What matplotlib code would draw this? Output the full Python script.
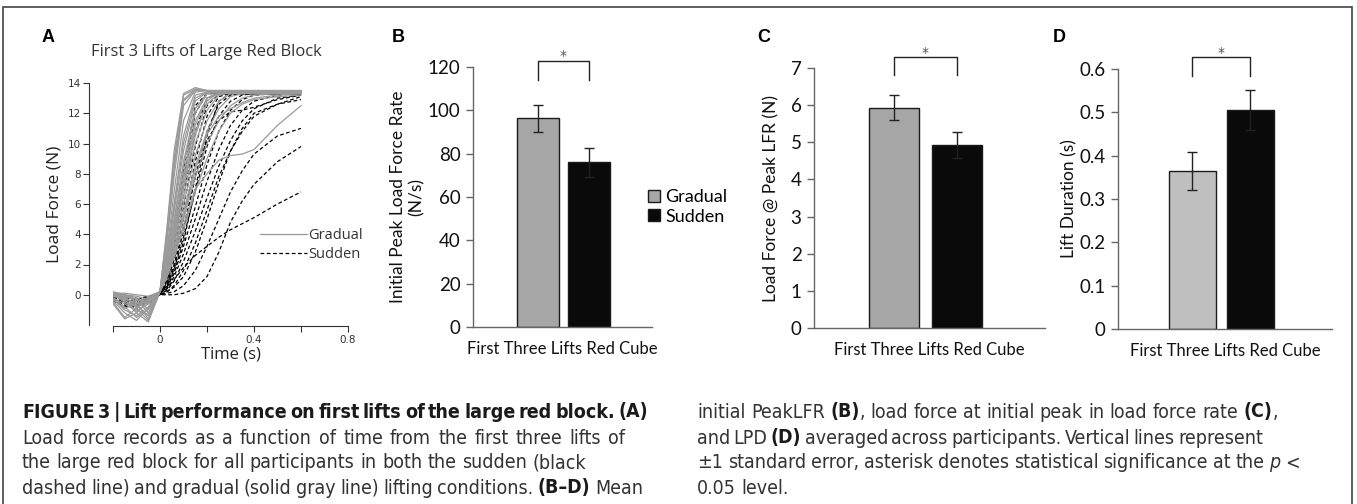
import matplotlib
matplotlib.use('Agg')
import matplotlib.pyplot as plt
from matplotlib import font_manager as fm
from matplotlib.lines import Line2D
from matplotlib.patches import Patch, Rectangle

W, H = 1357, 504

# ---- panel A: load force traces
time_s = [-0.2, -0.15, -0.1, -0.05, 0, 0.03, 0.06, 0.1, 0.15, 0.2, 0.25, 0.3, 0.35, 0.4, 0.5, 0.6]

gradual_traces = [
    [0.1, 0.1, 0.0, -0.1, 0.2, 4.5, 9.5, 13.3, 13.7, 13.5, 13.5, 13.5, 13.5, 13.5, 13.5, 13.5],
    [0.0, -0.2, -0.6, -0.4, 0.2, 4.0, 8.6, 12.9, 13.6, 13.5, 13.5, 13.5, 13.4, 13.4, 13.4, 13.4],
    [-0.3, -1.0, -1.4, -0.8, 0.2, 3.5, 7.8, 12.5, 13.5, 13.5, 13.4, 13.4, 13.4, 13.4, 13.4, 13.4],
    [0.2, 0.0, -0.5, -1.6, 0.2, 3.0, 6.8, 11.5, 13.4, 13.5, 13.4, 13.4, 13.4, 13.4, 13.4, 13.4],
    [-0.5, -1.5, -0.9, -0.3, 0.2, 2.8, 6.0, 10.5, 13.2, 13.4, 13.4, 13.4, 13.4, 13.4, 13.4, 13.4],
    [0.0, -0.3, -1.2, -1.8, 0.2, 2.5, 5.5, 9.5, 12.8, 13.4, 13.4, 13.4, 13.4, 13.4, 13.4, 13.4],
    [0.1, 0.0, -0.2, -0.5, 0.2, 2.2, 5.0, 8.8, 12.3, 13.3, 13.4, 13.4, 13.4, 13.4, 13.4, 13.4],
    [-0.2, -0.6, -1.1, -0.6, 0.2, 2.0, 4.5, 8.0, 11.5, 13.0, 13.4, 13.4, 13.4, 13.4, 13.4, 13.4],
    [0.0, 0.0, -0.3, -1.2, 0.2, 1.8, 4.0, 7.2, 10.8, 12.6, 13.3, 13.4, 13.4, 13.4, 13.4, 13.4],
    [-0.4, -1.2, -1.7, -0.9, 0.2, 1.6, 3.6, 6.5, 10.0, 12.2, 13.2, 13.4, 13.4, 13.4, 13.4, 13.4],
    [0.1, -0.1, -0.4, -0.2, 0.2, 1.5, 3.3, 6.0, 9.2, 11.5, 12.8, 13.3, 13.4, 13.4, 13.4, 13.4],
    [0.0, -0.5, -1.0, -1.3, 0.2, 1.4, 3.0, 5.5, 8.5, 10.8, 12.3, 13.1, 13.3, 13.4, 13.4, 13.4],
    [-0.1, -0.2, -0.8, -0.5, 0.2, 1.3, 2.8, 5.0, 7.8, 10.0, 11.5, 12.5, 13.0, 13.2, 13.3, 13.3],
    [0.0, -0.1, -0.3, -0.6, 0.2, 1.2, 2.6, 4.6, 7.0, 8.0, 8.9, 9.2, 9.3, 9.6, 11.2, 12.5],
    [-0.6, -1.6, -1.2, -0.4, 0.2, 1.2, 2.5, 4.3, 6.8, 9.0, 10.8, 12.0, 12.6, 12.9, 13.1, 13.2],
    [0.1, 0.0, -0.1, -0.3, 0.2, 4.3, 9.0, 13.2, 13.6, 13.5, 13.5, 13.5, 13.5, 13.5, 13.5, 13.5],
    [-0.2, -0.8, -1.5, -1.0, 0.2, 3.8, 8.3, 12.8, 13.5, 13.5, 13.5, 13.5, 13.5, 13.5, 13.5, 13.5],
    [0.0, -0.2, -0.7, -1.4, 0.2, 2.6, 5.8, 10.0, 13.0, 13.4, 13.4, 13.4, 13.4, 13.4, 13.4, 13.4],
    [-0.3, -0.9, -0.6, -0.2, 0.2, 2.0, 4.8, 8.5, 12.0, 13.3, 13.4, 13.4, 13.4, 13.4, 13.4, 13.4],
    [0.1, -0.1, -0.9, -1.7, 0.2, 1.7, 3.8, 7.0, 10.5, 12.8, 13.4, 13.4, 13.4, 13.4, 13.4, 13.4],
    [0.0, -0.4, -0.8, -0.3, 0.2, 1.9, 4.2, 7.6, 11.2, 13.0, 13.3, 13.3, 13.3, 13.3, 13.3, 13.3],
    [-0.1, -0.3, -0.5, -0.9, 0.2, 1.3, 2.9, 5.2, 8.2, 10.6, 11.8, 12.3, 12.7, 13.0, 13.2, 13.3],
]

sudden_traces = [
    [-0.2, -0.4, -0.5, -0.3, 0.2, 1.2, 3.5, 7.5, 12.0, 13.3, 13.3, 13.3, 13.3, 13.3, 13.3, 13.3],
    [-0.1, -0.3, -0.7, -0.5, 0.2, 1.0, 3.0, 6.5, 10.8, 13.0, 13.3, 13.3, 13.3, 13.3, 13.3, 13.3],
    [-0.3, -0.6, -0.8, -0.4, 0.1, 0.9, 2.6, 5.8, 9.8, 12.5, 13.3, 13.3, 13.3, 13.3, 13.3, 13.3],
    [-0.2, -0.5, -0.4, -0.2, 0.1, 0.8, 2.3, 5.0, 8.8, 11.8, 13.1, 13.3, 13.3, 13.3, 13.3, 13.3],
    [-0.4, -0.8, -0.6, -0.3, 0.1, 0.7, 2.0, 4.4, 7.8, 10.8, 12.6, 13.2, 13.3, 13.3, 13.3, 13.3],
    [-0.1, -0.2, -0.5, -0.6, 0.1, 0.6, 1.7, 3.8, 6.8, 9.8, 11.8, 12.8, 13.2, 13.3, 13.3, 13.3],
    [-0.3, -0.7, -0.9, -0.5, 0.1, 0.5, 1.4, 3.2, 5.8, 8.6, 10.8, 12.2, 12.9, 13.2, 13.3, 13.3],
    [-0.2, -0.3, -0.6, -0.4, 0.1, 0.4, 1.2, 2.7, 5.0, 7.5, 9.6, 11.2, 12.2, 12.8, 13.2, 13.3],
    [-0.1, -0.4, -0.7, -0.5, 0.0, 0.3, 0.9, 2.2, 4.2, 6.4, 8.5, 10.2, 11.5, 12.3, 13.0, 13.2],
    [-0.2, -0.5, -0.3, -0.1, 0.0, 0.2, 0.6, 1.6, 3.4, 5.6, 7.8, 9.5, 10.8, 11.8, 12.6, 13.1],
    [-0.1, -0.2, -0.4, -0.2, 0.0, 0.1, 0.2, 0.6, 1.6, 3.2, 5.0, 6.8, 8.2, 9.3, 10.5, 11.0],
    [-0.2, -0.4, -0.3, -0.1, 0.0, 0.0, 0.0, 0.1, 0.4, 1.2, 2.8, 4.8, 6.2, 7.3, 8.8, 9.8],
    [-0.1, -0.3, -0.5, -0.3, 0.1, 0.4, 1.0, 1.8, 2.6, 3.2, 3.8, 4.3, 4.7, 5.1, 6.0, 6.8],
    [-0.3, -0.5, -0.6, -0.2, 0.0, 0.2, 0.5, 1.2, 2.8, 5.0, 7.4, 9.5, 11.0, 12.0, 12.6, 12.9],
    [-0.2, -0.6, -0.8, -0.4, 0.2, 1.5, 4.0, 8.2, 12.5, 13.3, 13.3, 13.3, 13.3, 13.3, 13.3, 13.3],
    [-0.1, -0.2, -0.3, -0.2, 0.1, 0.5, 1.5, 3.5, 7.0, 10.5, 12.8, 13.3, 13.3, 13.3, 13.3, 13.3],
    [-0.2, -0.4, -0.6, -0.3, 0.1, 0.6, 1.8, 4.2, 7.8, 10.2, 11.5, 12.1, 12.2, 12.4, 12.9, 13.2],
]

# ---- panels B-D: means and standard errors
conditions = ['Gradual', 'Sudden']
category = 'First Three Lifts Red Cube'
peak_lfr = [96.3, 76.0]
peak_lfr_se = [6.3, 6.6]
force_at_peak = [5.93, 4.93]
force_at_peak_se = [0.33, 0.35]
lift_duration = [0.365, 0.505]
lift_duration_se = [0.044, 0.046]

fig = plt.figure(figsize=(W / 100, H / 100), dpi=100)
renderer = fig.canvas.get_renderer()


def px_axes(left, right, top, bottom):
    return fig.add_axes([left / W, 1 - bottom / H, (right - left) / W, (bottom - top) / H])


# outer frame
fig.add_artist(Rectangle((3 / W, -0.02), 1349 / W, 1 - 7 / H + 0.02, transform=fig.transFigure,
                         fill=False, edgecolor='#444444', lw=1.2))

# ---------------- A
axA = px_axes(113, 348, 83, 325)
for tr in sudden_traces:
    axA.plot(time_s, tr, color='black', lw=0.9, ls=(0, (3, 2)))
for tr in gradual_traces:
    axA.plot(time_s, tr, color='#9a9a9a', lw=0.9)
axA.set_xlim(-0.2, 0.8)
axA.set_ylim(-2, 14)
axA.spines[['top', 'right']].set_visible(False)
axA.spines['left'].set_position(('outward', 17))
axA.spines['bottom'].set_position(('outward', 1))
for s in ['left', 'bottom']:
    axA.spines[s].set_color('#333333')
    axA.spines[s].set_linewidth(0.8)
axA.set_yticks(range(0, 15, 2))
axA.set_xticks([-0.2, 0, 0.2, 0.4, 0.6, 0.8])
axA.set_xticklabels(['', '0', '', '0.4', '', '0.8'])
axA.tick_params(labelsize=7.5, colors='#333333', length=4, width=0.8, pad=2)
axA.set_xlabel('Time (s)', fontsize=12, family='Open Sans', color='#222222', labelpad=1)
axA.set_ylabel('Load Force (N)', fontsize=12.5, family='Open Sans', color='#222222', labelpad=4)
fig.text(206 / W, 1 - 52 / H, 'First 3 Lifts of Large Red Block', ha='center', va='center',
         fontsize=12, family='Open Sans', color='#333333')
axA.legend([Line2D([], [], color='#9a9a9a', lw=0.9), Line2D([], [], color='black', lw=0.9, ls=(0, (3, 2)))],
           ['Gradual', 'Sudden'], loc='center left', bbox_to_anchor=(247 / W, 1 - 245 / H),
           bbox_transform=fig.transFigure, frameon=False, handlelength=3.2, handletextpad=0.1,
           labelspacing=0.25, prop={'family': 'Open Sans', 'size': 10.5}, labelcolor='#333333')


# ---------------- B, C, D
def bar_panel(box, centers, bar_w, vals, errs, ymax, step, fmt, ylabel, gray, bracket, pad):
    left, right = box[0], box[1]
    ax = px_axes(*box)
    xs = [(c - left) / (right - left) for c in centers]
    width = bar_w / (right - left)
    ax.bar(xs, vals, width=width, color=[gray, '#0a0a0a'], edgecolor='#1a1a1a', lw=1.0,
           yerr=errs, error_kw=dict(ecolor='#222222', elinewidth=1.0, capsize=3.5, capthick=1.0))
    ax.set_xlim(0, 1)
    ax.set_ylim(0, ymax)
    ax.spines[['top', 'right']].set_visible(False)
    for s in ['left', 'bottom']:
        ax.spines[s].set_color('#666666')
        ax.spines[s].set_linewidth(1.0)
    n = int(round(ymax / step))
    ticks = [i * step for i in range(n + 1)]
    ax.set_yticks(ticks)
    ax.set_yticklabels([fmt(t) for t in ticks])
    ax.set_xticks([0.5])
    ax.set_xticklabels([category])
    ax.tick_params(axis='x', length=0, pad=10, labelsize=12)
    ax.tick_params(axis='y', length=5, width=1.0, color='#666666', labelsize=13.5, pad=4)
    for lab in ax.get_xticklabels() + ax.get_yticklabels():
        lab.set_family('Lato')
        lab.set_color('#111111')
    ax.set_ylabel(ylabel, fontsize=12.5, family='Lato', color='#111111', labelpad=pad)
    yb, yt = bracket
    ax.plot([xs[0], xs[0], xs[1], xs[1]], [yb, yt, yt, yb], color='#222222', lw=1.0, clip_on=False)
    ax.annotate('*', xy=((xs[0] + xs[1]) / 2, yt), xytext=(0, 3), textcoords='offset points',
                ha='center', va='center', fontsize=10, color='#555555', annotation_clip=False)
    return ax


axB = bar_panel((473, 652, 67, 327), [538, 589], 42, peak_lfr, peak_lfr_se, 120, 20,
                lambda t: '%d' % t, 'Initial Peak Load Force Rate\n(N/s)', '#a6a6a6', (114, 123), 2)
axC = bar_panel((814, 1045, 68, 328), [894, 957], 50, force_at_peak, force_at_peak_se, 7, 1,
                lambda t: '%d' % t, 'Load Force @ Peak LFR (N)', '#a6a6a6', (6.8, 7.3), 8)
axD = bar_panel((1118, 1332, 69, 329), [1192, 1250], 47, lift_duration, lift_duration_se, 0.6, 0.1,
                lambda t: '0' if t == 0 else '%.1f' % t, 'Lift Duration (s)', '#bfbfbf',
                (0.585, 0.628), 1)

fig.legend([Patch(facecolor='#a6a6a6', edgecolor='#1a1a1a'), Patch(facecolor='#0a0a0a', edgecolor='#1a1a1a')],
           conditions, loc='center left', bbox_to_anchor=(632 / W, 1 - 207 / H), frameon=False,
           handlelength=0.65, handleheight=0.65, handletextpad=0.3, labelspacing=0.2,
           prop={'family': 'Lato', 'size': 13})

# panel letters
for letter, x in [('A', 42), ('B', 392), ('C', 757), ('D', 1053)]:
    fig.text(x / W, 1 - 37 / H, letter, fontsize=13, fontweight='bold', family='Liberation Sans',
             va='center', ha='left')

# ---------------- caption (justified two-column text)
names = {f.name for f in fm.fontManager.ttflist}
narrow = [f for f in fm.fontManager.ttflist
          if 'Narrow' in f.name or 'Condensed' in f.name or str(f.stretch) in ('condensed', 'semi-condensed')]
if 'Liberation Sans Narrow' in names:
    cap_kw = dict(family='Liberation Sans Narrow')
elif narrow:
    cap_kw = dict(family=narrow[0].name, stretch=narrow[0].stretch)
else:
    cap_kw = dict(family='Liberation Sans')


def measure(s, size, **kw):
    t = fig.text(0, 0, s, fontsize=size, **cap_kw, **kw)
    w = t.get_window_extent(renderer).width
    t.remove()
    return w


ref_line = 'Load force records as a function of time from the first three lifts of'
cap_size = 10 * 605 / measure(ref_line, 10)
cap_size = min(cap_size, 14)


def caption_line(x0, x1, y, words, justify=True):
    items = []
    total = 0
    for word in words:
        parts = []
        for txt, wt, st in word:
            t = fig.text(0, 1 - y / H, txt, fontsize=cap_size, fontweight=wt, fontstyle=st,
                         color='#333333' if wt == 'normal' else '#1a1a1a',
                         va='center', ha='left', **cap_kw)
            w = t.get_window_extent(renderer).width
            parts.append((t, w))
            total += w
        items.append(parts)
    sp = measure('a b', cap_size) - measure('ab', cap_size)
    gap = sp
    if justify and len(items) > 1:
        gap = max((x1 - x0 - total) / (len(items) - 1), 0.6 * sp)
    x = x0
    for parts in items:
        for t, w in parts:
            t.set_x(x / W)
            x += w
        x += gap


def words_of(s, wt='normal', st='normal'):
    return [[(w, wt, st)] for w in s.split()]


B = 'bold'
N = 'normal'
caption_line(22, 643, 412, words_of('FIGURE 3 | Lift performance on first lifts of the large red block. (A)', B))
caption_line(22, 625, 438, words_of('Load force records as a function of time from the first three lifts of'))
caption_line(22, 585, 463, words_of('the large red block for all participants in both the sudden (black'), justify=False)
caption_line(22, 643, 488, words_of('dashed line) and gradual (solid gray line) lifting conditions.') +
             [[('(B–D)', B, N)]] + words_of('Mean'))
caption_line(697, 1278, 412, words_of('initial PeakLFR') + [[('(B)', B, N), (',', N, N)]] +
             words_of('load force at initial peak in load force rate') + [[('(C)', B, N), (',', N, N)]])
caption_line(697, 1254, 438, words_of('and LPD') + [[('(D)', B, N)]] +
             words_of('averaged across participants. Vertical lines represent'))
caption_line(697, 1300, 463, words_of('±1 standard error, asterisk denotes statistical significance at the') +
             [[('p', N, 'italic')], [('<', N, N)]])
caption_line(697, 790, 488, words_of('0.05 level.'), justify=False)

fig.savefig('out.png', dpi=100)
